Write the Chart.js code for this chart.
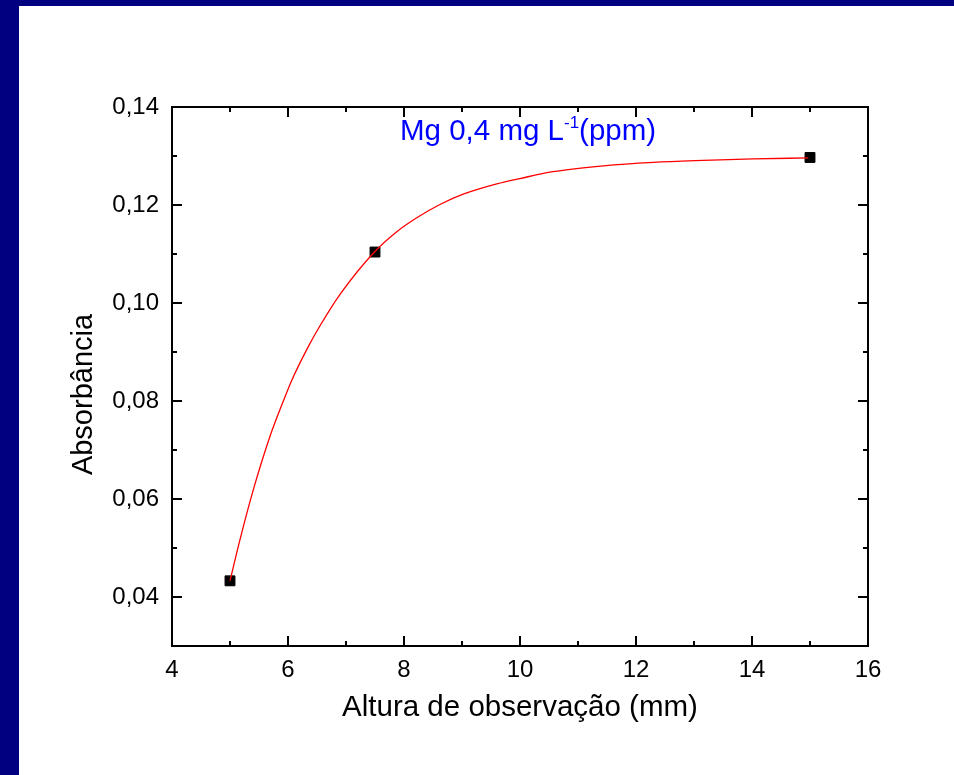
<!DOCTYPE html>
<html>
<head>
<meta charset="utf-8">
<script src="https://cdn.jsdelivr.net/npm/chart.js@4.4.0/dist/chart.umd.min.js"></script>
<style>
  html, body { margin: 0; padding: 0; background: #fff; }
  #wrap { position: relative; width: 954px; height: 775px; }
  #chart { position: absolute; left: 0; top: 0; }
  .bar { position: absolute; background: #000080; }
</style>
</head>
<body>
<div id="wrap">
  <canvas id="chart" width="954" height="775"></canvas>
  <div class="bar" style="left:0;top:0;width:954px;height:6px"></div>
  <div class="bar" style="left:0;top:0;width:19px;height:775px"></div>
</div>
<script>
// pontos medidos
const alturas = [5, 7.5, 15];
const absorbancias = [0.0433, 0.1104, 0.1297];

// curva ajustada
const curvaX = [5.0, 5.17, 5.40, 5.69, 5.92, 6.06, 6.35, 6.55, 6.90, 7.49, 7.87, 8.22, 8.62, 9.02, 9.60, 10.0, 10.57, 11.44, 12.30, 13.16, 14.02, 14.97];
const curvaY = [0.0433, 0.0516, 0.0618, 0.0728, 0.0800, 0.0841, 0.0911, 0.0953, 0.1018, 0.1104, 0.1145, 0.1174, 0.1201, 0.1222, 0.1243, 0.1254, 0.1268, 0.1280, 0.1287, 0.1291, 0.1294, 0.1296];

// ticks
const xTicks = [4, 6, 8, 10, 12, 14, 16];
const xTickLabels = ["4", "6", "8", "10", "12", "14", "16"];
const xMinor = [5, 7, 9, 11, 13, 15];
const yTicks = [0.04, 0.06, 0.08, 0.10, 0.12, 0.14];
const yTickLabels = ["0,04", "0,06", "0,08", "0,10", "0,12", "0,14"];
const yMinor = [0.03, 0.05, 0.07, 0.09, 0.11, 0.13];

const fonte = "'Liberation Sans', Arial, sans-serif";

// moldura e ticks para dentro, como no Origin
const framePlugin = {
  id: "frame",
  afterDatasetsDraw(chart) {
    const { ctx, chartArea: a, scales } = chart;
    const x = scales.x, y = scales.y;
    ctx.save();
    ctx.strokeStyle = "#000";
    ctx.lineWidth = 2;
    ctx.strokeRect(a.left, a.top, a.right - a.left, a.bottom - a.top);

    const tick = (x1, y1, x2, y2) => {
      ctx.beginPath();
      ctx.moveTo(x1, y1);
      ctx.lineTo(x2, y2);
      ctx.stroke();
    };
    xTicks.forEach(v => {
      const px = x.getPixelForValue(v);
      tick(px, a.bottom, px, a.bottom - 10);
      tick(px, a.top, px, a.top + 10);
    });
    xMinor.forEach(v => {
      const px = x.getPixelForValue(v);
      tick(px, a.bottom, px, a.bottom - 5);
      tick(px, a.top, px, a.top + 5);
    });
    yTicks.forEach(v => {
      const py = y.getPixelForValue(v);
      tick(a.left, py, a.left + 10, py);
      tick(a.right, py, a.right - 10, py);
    });
    yMinor.forEach(v => {
      const py = y.getPixelForValue(v);
      tick(a.left, py, a.left + 5, py);
      tick(a.right, py, a.right - 5, py);
    });

    // titulo do eixo y (um pouco abaixo do centro, como no original)
    ctx.save();
    ctx.translate(84, (a.top + a.bottom) / 2 + 18);
    ctx.rotate(-Math.PI / 2);
    ctx.fillStyle = "#000";
    ctx.font = "29px " + fonte;
    ctx.textAlign = "center";
    ctx.textBaseline = "middle";
    ctx.fillText("Absorbância", 0, 0);
    ctx.restore();

    // legenda do grafico
    ctx.fillStyle = "#0000FF";
    ctx.textBaseline = "alphabetic";
    ctx.textAlign = "left";
    let tx = a.left + 228;
    const ty = a.top + 33;
    ctx.font = "29.5px " + fonte;
    ctx.fillText("Mg 0,4 mg L", tx, ty);
    tx += ctx.measureText("Mg 0,4 mg L").width;
    ctx.font = "17px " + fonte;
    ctx.fillText("-1", tx, ty - 12);
    tx += ctx.measureText("-1").width;
    ctx.font = "29.5px " + fonte;
    ctx.fillText("(ppm)", tx, ty);
    ctx.restore();
  }
};

const ctx = document.getElementById("chart");

new Chart(ctx, {
  type: "scatter",
  data: {
    datasets: [
      {
        label: "ajuste",
        data: curvaX.map((v, i) => ({ x: v, y: curvaY[i] })),
        showLine: true,
        borderColor: "#FF0000",
        borderWidth: 1.3,
        pointRadius: 0,
        cubicInterpolationMode: "monotone"
      },
      {
        label: "Absorbância",
        data: alturas.map((v, i) => ({ x: v, y: absorbancias[i] })),
        pointStyle: "rect",
        pointRadius: 7,
        pointBackgroundColor: "#000",
        pointBorderColor: "#000",
        pointBorderWidth: 1
      }
    ]
  },
  options: {
    responsive: false,
    animation: false,
    layout: { padding: { top: 107, right: 86, left: 0, bottom: 0 } },
    plugins: {
      legend: { display: false },
      tooltip: { enabled: false }
    },
    scales: {
      x: {
        type: "linear",
        min: 4,
        max: 16,
        afterBuildTicks: s => { s.ticks = xTicks.map(v => ({ value: v })); },
        afterFit: s => { s.height = 129; },
        grid: { display: false, drawTicks: false },
        border: { display: false },
        ticks: {
          color: "#000",
          padding: 10,
          font: { family: fonte, size: 24 },
          callback: (v, i) => xTickLabels[i]
        },
        title: {
          display: true,
          text: "Altura de observação (mm)",
          color: "#000",
          font: { family: fonte, size: 29.5 },
          padding: { top: 0, bottom: 49 }
        }
      },
      y: {
        type: "linear",
        min: 0.03,
        max: 0.14,
        afterBuildTicks: s => { s.ticks = yTicks.map(v => ({ value: v })); },
        afterFit: s => { s.width = 172; },
        grid: { display: false, drawTicks: false },
        border: { display: false },
        ticks: {
          color: "#000",
          padding: 13,
          font: { family: fonte, size: 24 },
          callback: (v, i) => yTickLabels[i]
        }
      }
    }
  },
  plugins: [framePlugin]
});
</script>
</body>
</html>
